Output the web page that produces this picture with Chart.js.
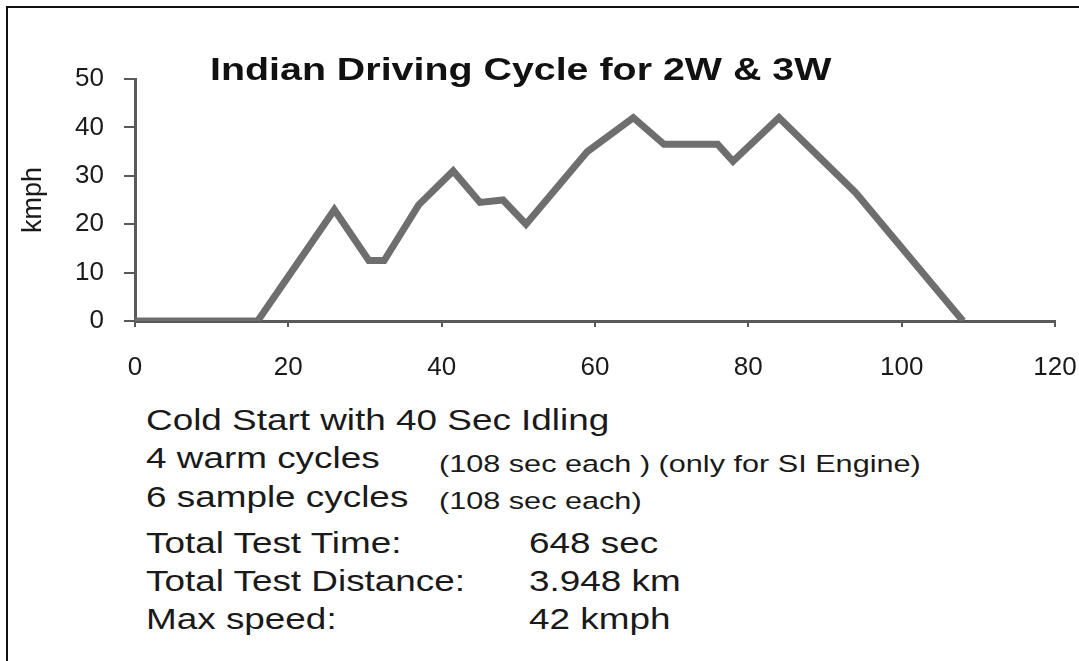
<!DOCTYPE html>
<html>
<head>
<meta charset="utf-8">
<script src="https://cdn.jsdelivr.net/npm/chart.js@4/dist/chart.umd.min.js"></script>
<style>
  html, body { margin: 0; padding: 0; background: #fff; overflow: hidden; }
  body { width: 1079px; height: 661px; position: relative; font-family: "Liberation Sans", Arial, sans-serif; color: #1a1a1a; }
  #frame { position: absolute; left: 6px; top: 6px; width: 1200px; height: 800px; border-left: 2px solid #111; border-top: 2px solid #111; }
  #wrap { position: absolute; left: 0; top: 0; width: 1079px; height: 400px; }
  .t { position: absolute; white-space: nowrap; line-height: 1; transform: scaleX(1.25); transform-origin: left top; }
  .title { font-weight: bold; font-size: 31.5px; color: #111; }
  .big { font-size: 29.5px; }
  .small { font-size: 24.5px; }
</style>
</head>
<body>
<div id="frame"></div>
<div id="wrap"><canvas id="chart"></canvas></div>

<div class="t title" style="left:210px; top:54px;">Indian Driving Cycle for 2W &amp; 3W</div>

<div class="t big" style="left:146px; top:405px;">Cold Start with 40 Sec Idling</div>
<div class="t big" style="left:146px; top:443px;">4 warm cycles</div>
<div class="t small" style="left:439px; top:452px;">(108 sec each ) (only for SI Engine)</div>
<div class="t big" style="left:146px; top:482px;">6 sample cycles</div>
<div class="t small" style="left:439px; top:489px;">(108 sec each)</div>
<div class="t big" style="left:146px; top:528px;">Total Test Time:</div>
<div class="t big" style="left:529px; top:528px;">648 sec</div>
<div class="t big" style="left:146px; top:566px;">Total Test Distance:</div>
<div class="t big" style="left:529px; top:566px;">3.948 km</div>
<div class="t big" style="left:146px; top:604px;">Max speed:</div>
<div class="t big" style="left:529px; top:604px;">42 kmph</div>

<script>
// speed trace of one cycle (seconds, kmph)
const timeSec = [0, 16, 26, 30.5, 32.5, 37, 41.5, 45, 48, 51, 59, 65, 69, 76, 78, 84, 94, 108];
const speedKmph = [0, 0, 23, 12.5, 12.5, 24, 31, 24.5, 25, 20, 35, 42, 36.5, 36.5, 33, 42, 26.5, 0];

const xTicks = [0, 20, 40, 60, 80, 100, 120];
const yTicks = [0, 10, 20, 30, 40, 50];

const axisGray = '#595959';
const labelFont = { family: 'Liberation Sans, Arial, sans-serif', size: 26 };

const points = timeSec.map((t, i) => ({ x: t, y: speedKmph[i] }));

new Chart(document.getElementById('chart').getContext('2d'), {
    type: 'line',
    data: {
        datasets: [{
            data: points,
            borderColor: '#6e6e6e',
            borderWidth: 7,
            pointRadius: 0,
            tension: 0,
            borderJoinStyle: 'miter',
            fill: false
        }]
    },
    options: {
        responsive: true,
        maintainAspectRatio: false,
        animation: false,
        layout: { padding: { left: 0, top: 79, right: 24, bottom: 0 } },
        plugins: { legend: { display: false }, tooltip: { enabled: false } },
        scales: {
            x: {
                type: 'linear',
                min: 0,
                max: 120,
                afterBuildTicks: s => { s.ticks = xTicks.map(v => ({ value: v })); },
                afterFit: s => { s.height = 79; s.paddingLeft = 0; s.paddingRight = 0; },
                border: { display: true, color: axisGray, width: 3 },
                grid: { drawOnChartArea: false, drawTicks: true, tickLength: 6, color: axisGray, lineWidth: 2 },
                ticks: { color: '#1a1a1a', font: labelFont, padding: 25, maxRotation: 0 }
            },
            y: {
                min: 0,
                max: 50,
                afterBuildTicks: s => { s.ticks = yTicks.map(v => ({ value: v })); },
                afterFit: s => { s.width = 135; s.paddingTop = 0; s.paddingBottom = 0; },
                border: { display: true, color: axisGray, width: 3 },
                grid: { drawOnChartArea: false, drawTicks: true, tickLength: 11, color: axisGray, lineWidth: 2 },
                ticks: { color: '#1a1a1a', font: labelFont, padding: 20 },
                title: {
                    display: true,
                    text: 'kmph',
                    color: '#1a1a1a',
                    font: { family: 'Liberation Sans, Arial, sans-serif', size: 27 },
                    padding: { top: 17, bottom: 0 }
                }
            }
        }
    }
});
</script>
</body>
</html>
